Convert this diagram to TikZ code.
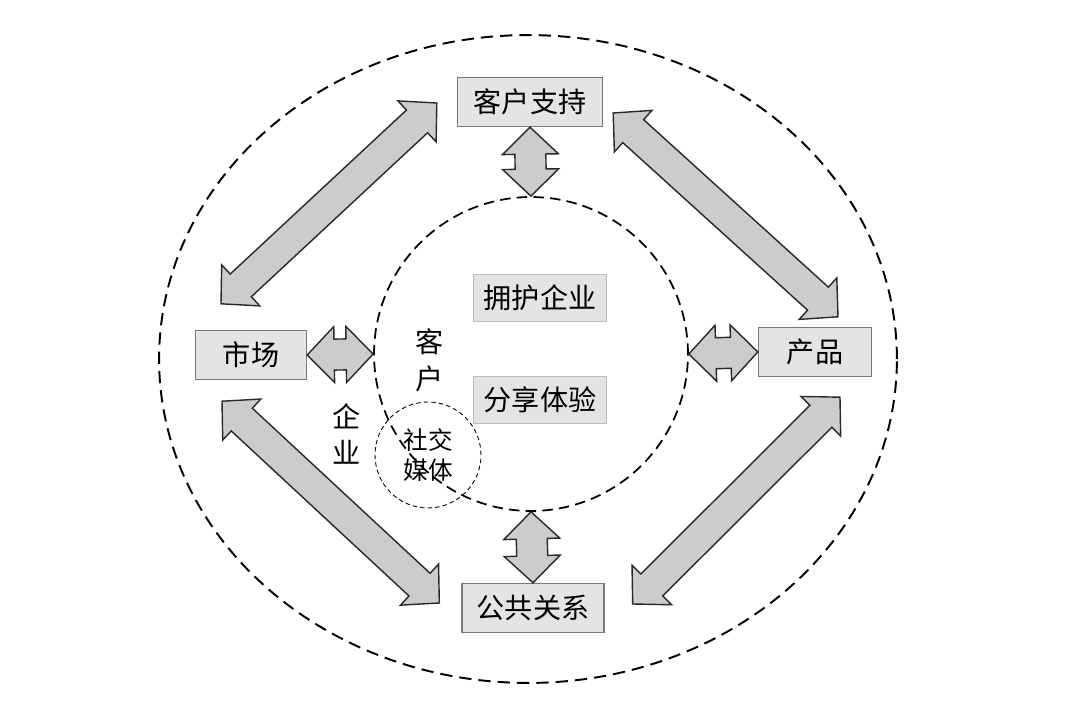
\documentclass[tikz,border=0pt]{standalone}
\usepackage{fontspec}
\newfontfamily\cjk{Noto Sans CJK SC}
\usetikzlibrary{calc,positioning,shapes.geometric}
\definecolor{BoxFill}{RGB}{228,228,228}
\definecolor{BoxLine}{RGB}{120,120,120}
\definecolor{ArrFill}{RGB}{204,204,204}
\definecolor{ArrLine}{RGB}{40,40,40}

% double-headed block arrow between two points
\def\arrhl{0.54cm}\def\arrhw{0.56cm}\def\arrsw{0.31cm}
\newcommand{\dblarrow}[2]{%
  \draw[bigarrow] (#1)
    -- ($($(#1)!\arrhl!(#2)$)!\arrhw!90:(#2)$)
    -- ($($(#1)!\arrhl!(#2)$)!\arrsw!90:(#2)$)
    -- ($($(#2)!\arrhl!(#1)$)!\arrsw!90:(#2)$)
    -- ($($(#2)!\arrhl!(#1)$)!\arrhw!90:(#2)$)
    -- (#2)
    -- ($($(#2)!\arrhl!(#1)$)!\arrhw!-90:(#2)$)
    -- ($($(#2)!\arrhl!(#1)$)!\arrsw!-90:(#2)$)
    -- ($($(#1)!\arrhl!(#2)$)!\arrsw!-90:(#2)$)
    -- ($($(#1)!\arrhl!(#2)$)!\arrhw!-90:(#2)$)
    -- cycle;}

\begin{document}
\begin{tikzpicture}[x=0.02cm,y=-0.02cm]
  \tikzset{box/.style={draw=BoxLine,fill=BoxFill,line width=0.8pt,minimum height=0.98cm,inner sep=0pt,font=\cjk\fontsize{16}{21}\selectfont},
    innerbox/.style={box,draw=BoxLine!50,minimum width=2.65cm,minimum height=0.95cm},
    bigarrow/.style={draw=ArrLine,fill=ArrFill,line width=0.8pt,line join=miter},
    label/.style={align=center,inner sep=0pt,font=\cjk\fontsize{16}{21}\selectfont}}
  \useasboundingbox (0,0) rectangle (1080,723);
  % rings
  \node[ellipse,draw,dash pattern=on 7pt off 4pt,line width=1.1pt,minimum width=14.76cm,minimum height=12.96cm,inner sep=0pt] (outer) at (528,359) {};
  \node[circle,draw,dash pattern=on 6pt off 3.5pt,line width=1pt,minimum size=6.28cm,inner sep=0pt] (cust) at (531,354) {};
  \node[circle,draw,dash pattern=on 2.5pt off 1.8pt,line width=0.5pt,minimum size=2.12cm,inner sep=0pt,align=center,font=\cjk\fontsize{14}{17}\selectfont] (social) at (428,455) {社交\\媒体};
  % boxes
  \node[box,minimum width=2.9cm] (support) at (530,102) {客户支持};
  \node[box,minimum width=2.22cm] (market) at (251,355) {市场};
  \node[box,minimum width=2.26cm] (product) at (815,352) {产品};
  \node[box,minimum width=2.84cm] (pr) at (533,608) {公共关系};
  \node[innerbox] (loyal) at (540,298) {拥护企业};
  \node[innerbox] (share) at (540,400) {分享体验};
  \node[label] (custlabel) at (430,360) {客\\户};
  \node[label] (firmlabel) at (347,434) {企\\业};
  % ends of the long arrows
  \coordinate (tl1) at ($(support.west)+(-20,1)$);
  \coordinate (tl2) at ($(market.north)+(-30,-26)$);
  \coordinate (tr1) at ($(support.east)+(10,11)$);
  \coordinate (tr2) at ($(product.north)+(23,-10)$);
  \coordinate (bl1) at ($(market.south)+(-29,21)$);
  \coordinate (bl2) at ($(pr.west)+(-22,-5)$);
  \coordinate (br1) at ($(product.south)+(25,20)$);
  \coordinate (br2) at ($(pr.east)+(28,-4)$);
  % arrows
  \dblarrow{support.south}{cust.north}
  \dblarrow{market.east}{cust.west}
  \dblarrow{cust.east}{product.west}
  \dblarrow{cust.south}{pr.north}
  \dblarrow{tl1}{tl2}
  \dblarrow{tr1}{tr2}
  \dblarrow{bl1}{bl2}
  \dblarrow{br1}{br2}
\end{tikzpicture}
\end{document}
